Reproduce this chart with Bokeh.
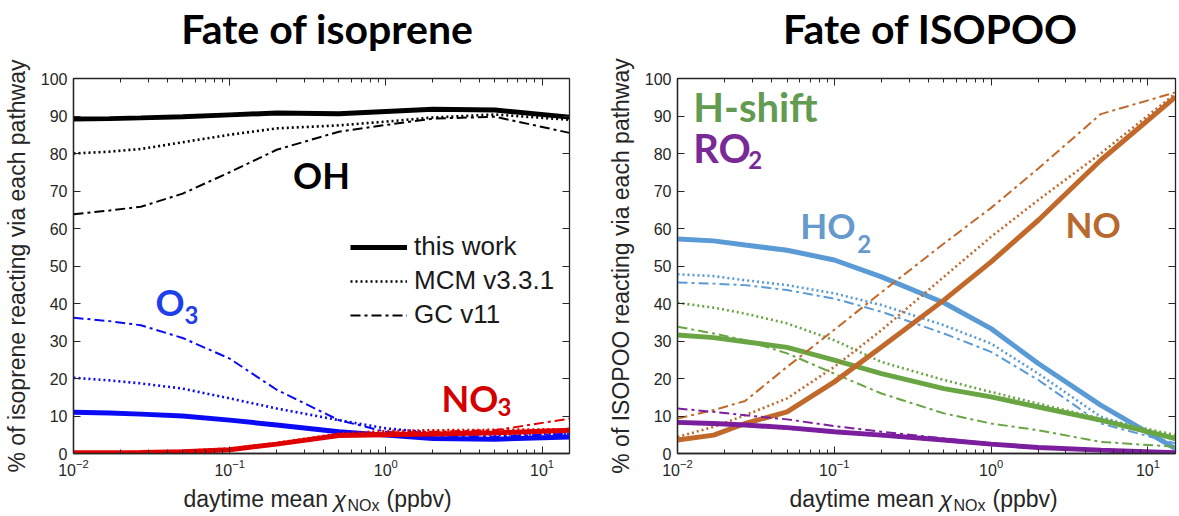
import numpy as np
from bokeh.plotting import figure
from bokeh.layouts import row, column
from bokeh.models import (Range1d, LogAxis, LinearAxis, Label, Legend, LegendItem,
                          FixedTicker, CustomJSTickFormatter, LogTicker)
from bokeh.embed import file_html
from bokeh.resources import INLINE

# ---------------- data ----------------
nox = [0.01, 0.017, 0.027, 0.05, 0.1, 0.2, 0.5, 1.0, 2.0, 5.0, 15.0]

# Fate of isoprene (% reacting with each oxidant)
oh_this = [89.2, 89.3, 89.5, 89.8, 90.3, 90.8, 90.6, 91.2, 91.8, 91.6, 89.7]
oh_mcm = [80.0, 80.5, 81.2, 83.0, 85.0, 86.7, 87.5, 88.5, 89.6, 90.4, 89.0]
oh_gc = [63.8, 64.8, 65.8, 69.3, 75.0, 81.0, 85.8, 87.6, 89.3, 89.8, 85.5]
o3_this = [11.0, 10.8, 10.5, 10.0, 8.9, 7.6, 5.8, 4.9, 4.0, 3.8, 4.4]
o3_mcm = [20.2, 19.5, 18.7, 17.3, 14.7, 12.0, 8.9, 6.7, 5.5, 5.0, 5.3]
o3_gc = [36.2, 35.3, 34.2, 30.8, 25.3, 17.0, 8.9, 5.8, 4.8, 4.5, 5.3]
no3_this = [0.2, 0.2, 0.3, 0.5, 1.0, 2.5, 4.8, 5.0, 5.2, 5.5, 6.2]
no3_mcm = [0.3, 0.3, 0.4, 0.7, 1.3, 2.8, 5.3, 6.0, 6.2, 6.3, 6.5]
no3_gc = [0.2, 0.2, 0.3, 0.6, 1.2, 2.6, 5.0, 5.6, 5.8, 6.2, 9.3]

# Fate of ISOPOO (% reacting via each pathway)
ho2_this = [57.2, 56.7, 55.6, 54.2, 51.6, 47.1, 40.2, 33.3, 24.0, 12.9, 1.3]
ho2_mcm = [47.8, 47.3, 46.2, 44.9, 42.7, 39.6, 34.2, 29.3, 21.3, 9.8, 3.6]
ho2_gc = [45.6, 45.3, 44.9, 43.6, 41.3, 37.8, 32.0, 27.1, 19.6, 8.0, 2.7]
hsh_this = [31.6, 30.9, 29.8, 28.3, 24.9, 21.3, 17.3, 15.1, 12.4, 8.9, 4.0]
hsh_mcm = [40.2, 38.9, 37.3, 34.7, 30.2, 24.4, 19.6, 16.4, 13.3, 9.3, 4.9]
hsh_gc = [33.8, 32.0, 30.2, 26.7, 21.3, 16.0, 10.7, 8.0, 6.2, 3.1, 1.8]
ro2_this = [8.3, 8.0, 7.6, 6.9, 5.8, 4.9, 3.6, 2.5, 1.6, 0.9, 0.2]
ro2_mcm = [8.0, 7.8, 7.4, 6.7, 5.6, 4.7, 3.4, 2.3, 1.5, 0.8, 0.2]
ro2_gc = [12.0, 11.1, 10.2, 9.1, 7.3, 5.8, 4.0, 2.7, 1.6, 0.9, 0.4]
no_this = [3.6, 4.9, 8.0, 11.1, 19.1, 28.4, 40.9, 51.1, 62.2, 78.2, 95.1]
no_mcm = [4.4, 7.1, 10.2, 14.7, 23.1, 32.9, 47.1, 57.8, 67.6, 80.0, 96.0]
no_gc = [9.3, 11.6, 14.0, 23.1, 33.0, 43.0, 56.0, 65.5, 76.0, 90.5, 96.3]

y_ticks = [0, 10, 20, 30, 40, 50, 60, 70, 80, 90, 100]
legend_labels = ["this work", "MCM v3.3.1", "GC v11"]
titles = ["Fate of isoprene", "Fate of ISOPOO"]

# ---------------- styles / layout ----------------
AX = "#262626"
SANS = "Liberation Sans"
BOLD = "Lato"
W_SOLID, W_DOT, W_DASH = 5, 2.6, 2
DOT = "2 3"
DASHDOT = "10 4 3 4"
TOP_H = 56          # title strip
MAIN_H = 427        # plot figures
BOT_H = 516 - TOP_H - MAIN_H   # x-label strip
FRAME_H = 375


def empty_fmt():
    return CustomJSTickFormatter(code="return '';")


def blank_strip(width, height):
    s = figure(width=width, height=height, x_range=Range1d(0, width),
               y_range=Range1d(0, height), output_backend="svg", title=None,
               toolbar_location=None, x_axis_location=None, y_axis_location=None,
               min_border=0, outline_line_color=None)
    s.xgrid.visible = False
    s.ygrid.visible = False
    return s


def title_strip(width, xc, text):
    s = blank_strip(width, TOP_H)
    s.add_layout(Label(x=xc, y=28, text=text, text_font=BOLD, text_font_style="bold",
                       text_font_size="41px", text_color="#000000",
                       text_align="center", text_baseline="middle"))
    return s


def xlabel_strip(width, x_start):
    s = blank_strip(width, BOT_H)
    mid = 18
    s.add_layout(Label(x=x_start, y=mid, text="daytime mean", text_font=SANS,
                       text_font_size="23px", text_color=AX,
                       text_baseline="middle"))
    s.add_layout(Label(x=x_start + 150, y=mid, text="χ", text_font=SANS,
                       text_font_style="italic", text_font_size="23px",
                       text_color=AX, text_baseline="middle"))
    s.add_layout(Label(x=x_start + 164, y=mid - 7, text="NOx", text_font=SANS,
                       text_font_size="16px", text_color=AX,
                       text_baseline="middle"))
    s.add_layout(Label(x=x_start + 203, y=mid, text="(ppbv)", text_font=SANS,
                       text_font_size="23px", text_color=AX,
                       text_baseline="middle"))
    return s


def make_fig(width, border_left, border_right, ylabel):
    p = figure(width=width, height=MAIN_H, x_axis_type="log",
               x_range=Range1d(0.01, 15), y_range=Range1d(0, 100),
               output_backend="svg", toolbar_location=None, title=None,
               min_border_left=border_left, min_border_right=border_right,
               min_border_top=78 - TOP_H,
               min_border_bottom=MAIN_H - (78 - TOP_H) - FRAME_H)
    p.xgrid.visible = False
    p.ygrid.visible = False
    p.outline_line_color = AX
    p.outline_line_width = 1.3
    p.background_fill_color = "white"
    p.border_fill_color = "white"

    xa = p.xaxis[0]
    xa.ticker = LogTicker(desired_num_ticks=4, num_minor_ticks=10)
    xa.major_label_text_font = SANS
    xa.major_label_text_font_size = "16px"
    xa.major_label_text_color = AX
    xa.major_tick_in = 7
    xa.major_tick_out = 0
    xa.minor_tick_in = 4
    xa.minor_tick_out = 0
    xa.axis_line_color = AX
    xa.axis_line_width = 1.3
    xa.major_tick_line_color = AX
    xa.minor_tick_line_color = AX
    xa.major_label_standoff = 5

    ya = p.yaxis[0]
    ya.ticker = FixedTicker(ticks=y_ticks)
    ya.major_label_text_font = SANS
    ya.major_label_text_font_size = "16px"
    ya.major_label_text_color = AX
    ya.major_tick_in = 7
    ya.major_tick_out = 0
    ya.minor_tick_line_color = None
    ya.axis_line_color = AX
    ya.axis_line_width = 1.3
    ya.major_tick_line_color = AX
    ya.major_label_standoff = 6
    ya.axis_label = ylabel
    ya.axis_label_text_font = SANS
    ya.axis_label_text_font_style = "normal"
    ya.axis_label_text_font_size = "23px"
    ya.axis_label_text_color = AX
    ya.axis_label_standoff = 8

    top = LogAxis(ticker=LogTicker(desired_num_ticks=4, num_minor_ticks=10),
                  formatter=empty_fmt(), major_tick_in=7, major_tick_out=0,
                  minor_tick_in=4, minor_tick_out=0, major_label_standoff=0,
                  major_label_text_font_size="8px",
                  axis_line_color=AX, major_tick_line_color=AX,
                  minor_tick_line_color=AX)
    p.add_layout(top, "above")
    right = LinearAxis(ticker=FixedTicker(ticks=y_ticks), formatter=empty_fmt(),
                       major_tick_in=7, major_tick_out=0, major_label_standoff=0,
                       major_label_text_font_size="8px",
                       minor_tick_line_color=None, axis_line_color=AX,
                       major_tick_line_color=AX)
    p.add_layout(right, "right")
    return p


def series(p, ys, color):
    a, b, c = ys
    r1 = p.line(nox, a, line_color=color, line_width=W_SOLID)
    r2 = p.line(nox, b, line_color=color, line_width=W_DOT, line_dash=DOT)
    r3 = p.line(nox, c, line_color=color, line_width=W_DASH, line_dash=DASHDOT)
    return r1, r2, r3


def chem_label(p, x, y, main, color, size, sub=None, sub_dx=0, sub_y=0):
    p.add_layout(Label(x=x, y=y, text=main, text_font=BOLD, text_font_style="bold",
                       text_font_size=size, text_color=color,
                       text_baseline="middle"))
    if sub:
        p.add_layout(Label(x=x, y=sub_y, x_offset=sub_dx, text=sub, text_font=BOLD,
                           text_font_style="bold", text_font_size="24px",
                           text_color=color, text_baseline="middle"))


# ---------------- left panel ----------------
p1 = make_fig(590, 71, 21, "% of isoprene reacting via each pathway")
BLUE, RED, BLACK = "#0A0AF5", "#E00000", "#000000"
series(p1, (o3_this, o3_mcm, o3_gc), BLUE)
series(p1, (no3_this, no3_mcm, no3_gc), RED)
oh_r = series(p1, (oh_this, oh_mcm, oh_gc), BLACK)

chem_label(p1, 0.2547, 74.3, "OH", "#000000", "36px")
chem_label(p1, 0.0335, 40.4, "O", "#1F3FEA", "36px", "3", 29, 36.9)
chem_label(p1, 2.275, 14.9, "NO", "#D40000", "36px", "3", 56, 12.3)

legend = Legend(items=[LegendItem(label=lab, renderers=[r])
                       for lab, r in zip(legend_labels, oh_r)],
                location=(277, 123), glyph_width=57, glyph_height=30,
                label_height=30, label_standoff=7, spacing=3, padding=0, margin=0,
                label_text_font=SANS, label_text_font_size="26px",
                label_text_color="#1a1a1a", border_line_color=None,
                background_fill_alpha=0)
p1.add_layout(legend, "center")

# ---------------- right panel ----------------
p2 = make_fig(589, 87, 4, "% of ISOPOO reacting via each pathway")
C_HO2, C_HSH, C_RO2, C_NO = "#5B9BD5", "#6AA544", "#7B1F9E", "#C0692A"
series(p2, (ho2_this, ho2_mcm, ho2_gc), C_HO2)
series(p2, (hsh_this, hsh_mcm, hsh_gc), C_HSH)
series(p2, (no_this, no_mcm, no_gc), C_NO)
series(p2, (ro2_this, ro2_mcm, ro2_gc), C_RO2)

chem_label(p2, 0.01259, 92.3, "H-shift", "#639B52", "40px")
chem_label(p2, 0.01259, 81.6, "RO", "#7A2A96", "40px", "2", 55, 78.3)
chem_label(p2, 0.0607, 60.9, "HO", "#6699CC", "35px", "2", 57, 56.0)
chem_label(p2, 2.98, 61.3, "NO", "#B8692E", "35px")

t1 = title_strip(590, 327, titles[0])
t2 = title_strip(589, 340, titles[1])
s1 = xlabel_strip(590, 183)
s2 = xlabel_strip(589, 199)

layout = column(row(t1, t2), row(p1, p2), row(s1, s2))
open("out.html", "w").write(file_html(layout, INLINE))
